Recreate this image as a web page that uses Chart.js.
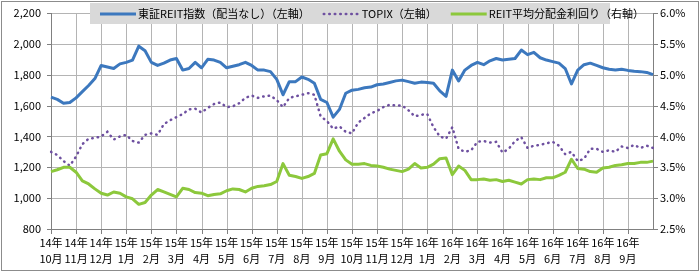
<!DOCTYPE html>
<html>
<head>
<meta charset="utf-8">
<script src="https://cdn.jsdelivr.net/npm/chart.js@4/dist/chart.umd.min.js"></script>
<style>
  html, body { margin: 0; padding: 0; background: #fff; }
</style>
</head>
<body>
<canvas id="chart" width="700" height="273"></canvas>
<script>
// month tick labels (one every 4 data points)
const monthLabels = [
  ["14年", "10月"], ["14年", "11月"], ["14年", "12月"], ["15年", "1月"], ["15年", "2月"], ["15年", "3月"],
  ["15年", "4月"], ["15年", "5月"], ["15年", "6月"], ["15年", "7月"], ["15年", "8月"], ["15年", "9月"],
  ["15年", "10月"], ["15年", "11月"], ["15年", "12月"], ["16年", "1月"], ["16年", "2月"], ["16年", "3月"],
  ["16年", "4月"], ["16年", "5月"], ["16年", "6月"], ["16年", "7月"], ["16年", "8月"], ["16年", "9月"]
];

// 東証REIT指数 (left axis), roughly weekly
const reitIndex = [
  1655, 1640, 1615, 1620, 1650, 1690, 1730, 1775, 1860, 1850,
  1840, 1870, 1880, 1895, 1985, 1955, 1880, 1860, 1875, 1895,
  1905, 1830, 1840, 1880, 1845, 1900, 1895, 1880, 1845, 1855,
  1865, 1880, 1860, 1830, 1830, 1820, 1770, 1670, 1755, 1755,
  1785, 1770, 1745, 1640, 1620, 1525, 1575, 1680, 1700, 1705,
  1715, 1720, 1735, 1740, 1750, 1760, 1765, 1755, 1745, 1752,
  1750, 1745, 1695, 1660, 1830, 1760, 1830, 1860, 1880, 1865,
  1890, 1905, 1895, 1900, 1905, 1960, 1930, 1945, 1910, 1895,
  1885, 1875, 1840, 1740, 1830, 1865, 1875, 1860, 1845, 1835,
  1830, 1835, 1828, 1822, 1820, 1815, 1800
];

// TOPIX (left axis)
const topix = [
  1300, 1280, 1240, 1210, 1270, 1350, 1385, 1390, 1400, 1430,
  1380, 1400, 1410, 1370, 1360, 1410, 1420, 1410, 1480, 1505,
  1525, 1545, 1575, 1580, 1555, 1585, 1610, 1620, 1590, 1595,
  1615, 1650, 1665, 1650, 1660, 1665, 1635, 1590, 1650, 1660,
  1670, 1680, 1670, 1530, 1500, 1450, 1465, 1430, 1420, 1490,
  1520, 1550, 1565, 1590, 1605, 1600, 1600, 1570, 1530, 1540,
  1545, 1460, 1400, 1385, 1460, 1320, 1300, 1310, 1365, 1370,
  1360, 1365, 1295, 1320, 1370, 1395, 1325, 1340, 1345, 1355,
  1365, 1340, 1285, 1300, 1240, 1255, 1320, 1320, 1300, 1310,
  1300, 1335, 1325, 1345, 1325, 1340, 1325
];

// REIT平均分配金利回り (right axis, %)
const reitYield = [
  3.43, 3.46, 3.50, 3.50, 3.42, 3.28, 3.23, 3.15, 3.08, 3.05,
  3.10, 3.08, 3.02, 2.99, 2.90, 2.93, 3.05, 3.14, 3.10, 3.06,
  3.02, 3.16, 3.14, 3.09, 3.08, 3.04, 3.06, 3.07, 3.12, 3.15,
  3.14, 3.10, 3.16, 3.19, 3.20, 3.22, 3.27, 3.56, 3.37, 3.35,
  3.32, 3.35, 3.40, 3.70, 3.72, 3.96, 3.76, 3.62, 3.55, 3.55,
  3.56, 3.53, 3.52, 3.50, 3.47, 3.45, 3.43, 3.47, 3.56, 3.49,
  3.50, 3.55, 3.64, 3.65, 3.38, 3.52, 3.45, 3.30, 3.30, 3.31,
  3.29, 3.30, 3.27, 3.29, 3.26, 3.23, 3.30, 3.31, 3.30, 3.33,
  3.33, 3.37, 3.42, 3.63, 3.48, 3.47, 3.43, 3.42, 3.49, 3.50,
  3.53, 3.54, 3.56, 3.56, 3.58, 3.58, 3.60
];

// axis tick values
const leftTicks = [800, 1000, 1200, 1400, 1600, 1800, 2000, 2200];
const rightTicks = [2.5, 3.0, 3.5, 4.0, 4.5, 5.0, 5.5, 6.0];

const seriesNames = ["東証REIT指数（配当なし）（左軸）", "TOPIX（左軸）", "REIT平均分配金利回り（右軸）"];

// one category per data point, month label on every 4th
const labels = reitIndex.map((v, i) => (i % 4 === 0 && monthLabels[i / 4]) ? monthLabels[i / 4] : "");

const FONT = '"Noto Sans CJK JP", "Noto Sans", sans-serif';
const GRID = "#b4b4b4";
const AXIS = "#808080";
const NONE = "rgba(0,0,0,0)";

/* gridlines, axis lines and tick marks as 1px rects, placed through the chart's own scales */
const gridLines = {
  id: "gridLines",
  beforeDatasetsDraw(chart) {
    const { ctx, chartArea: a, scales } = chart;
    const L = Math.round(a.left), R = Math.round(a.right);
    const T = Math.round(a.top), B = Math.round(a.bottom);
    const hLine = (x1, x2, y) => ctx.fillRect(x1, Math.round(y), x2 - x1 + 1, 1);
    const vLine = (x, y1, y2) => ctx.fillRect(Math.round(x), y1, 1, y2 - y1 + 1);
    ctx.save();
    ctx.globalAlpha = 1;
    ctx.fillStyle = GRID;
    leftTicks.forEach((v) => hLine(L, R, scales.y.getPixelForValue(v)));
    labels.forEach((l, i) => { if (l) vLine(scales.x.getPixelForValue(i), T, B); });

    ctx.fillStyle = AXIS;
    vLine(L, T, B + 4);
    vLine(R, T, B);
    hLine(L, R, B);
    leftTicks.forEach((v) => hLine(L - 4, L, scales.y.getPixelForValue(v)));
    rightTicks.forEach((v) => hLine(R, R + 4, scales.y1.getPixelForValue(v)));
    labels.forEach((l, i) => { if (l) vLine(scales.x.getPixelForValue(i), B, B + 4); });
    ctx.restore();
  }
};

/* legend drawn as a grey box over the top of the plot, plus the outer frame */
const boxLegend = {
  id: "boxLegend",
  afterDraw(chart) {
    const ctx = chart.ctx;
    ctx.save();
    ctx.fillStyle = "#d9d9d9";
    ctx.fillRect(90, 3, 520, 21);
    ctx.font = "11px " + FONT;
    ctx.textBaseline = "middle";
    let x = 100;
    chart.data.datasets.forEach((ds) => {
      ctx.beginPath();
      ctx.strokeStyle = ds.borderColor;
      ctx.lineWidth = ds.borderWidth;
      ctx.lineCap = ds.borderCapStyle || "butt";
      ctx.setLineDash(ds.borderDash || []);
      ctx.moveTo(x, 14);
      ctx.lineTo(x + 36, 14);
      ctx.stroke();
      ctx.setLineDash([]);
      ctx.fillStyle = "#000";
      ctx.fillText(ds.label, x + 38, 14);
      x += 38 + ctx.measureText(ds.label).width + 14;
    });
    ctx.strokeStyle = "#8c8c8c";
    ctx.lineWidth = 1;
    ctx.strokeRect(1.5, 1.5, 697, 269);
    ctx.restore();
  }
};

new Chart(document.getElementById("chart"), {
  type: "line",
  data: {
    labels: labels,
    datasets: [
      {
        label: seriesNames[0],
        data: reitIndex,
        yAxisID: "y",
        borderColor: "#3c78be",
        borderWidth: 3,
        borderJoinStyle: "round",
        pointRadius: 0,
        order: 3,
      },
      {
        label: seriesNames[1],
        data: topix,
        yAxisID: "y",
        borderColor: "#6e50a0",
        borderWidth: 2.5,
        borderDash: [0.5, 5],
        borderCapStyle: "round",
        pointRadius: 0,
        order: 2,
      },
      {
        label: seriesNames[2],
        data: reitYield,
        yAxisID: "y1",
        borderColor: "#8cc83c",
        borderWidth: 3,
        borderJoinStyle: "round",
        pointRadius: 0,
        order: 1,
      },
    ],
  },
  options: {
    responsive: false,
    animation: false,
    layout: { padding: { top: 13, left: 0, right: 0, bottom: 0 } },
    plugins: { legend: { display: false }, tooltip: { enabled: false } },
    elements: { line: { tension: 0 } },
    scales: {
      x: {
        type: "category",
        offset: false,
        afterFit(s) { s.height = 44; },
        grid: { color: NONE, tickColor: NONE, tickLength: 4 },
        border: { display: false },
        ticks: {
          autoSkip: false,
          maxRotation: 0,
          padding: 2,
          color: "#000",
          font: { family: FONT, size: 11, lineHeight: 1.45 },
        },
      },
      y: {
        position: "left",
        min: leftTicks[0],
        max: leftTicks[leftTicks.length - 1],
        afterFit(s) { s.width = 51; },
        grid: { color: NONE, tickColor: NONE, tickLength: 4 },
        border: { display: false },
        ticks: {
          stepSize: 200,
          padding: 6,
          color: "#000",
          font: { family: FONT, size: 11 },
          callback: (v) => v.toLocaleString("en-US"),
        },
      },
      y1: {
        position: "right",
        min: rightTicks[0],
        max: rightTicks[rightTicks.length - 1],
        afterFit(s) { s.width = 47; },
        grid: { drawOnChartArea: false, tickColor: NONE, tickLength: 4 },
        border: { display: false },
        ticks: {
          stepSize: 0.5,
          padding: 3,
          color: "#000",
          font: { family: FONT, size: 11 },
          callback: (v) => v.toFixed(1) + "%",
        },
      },
    },
  },
  plugins: [gridLines, boxLegend],
});
</script>
</body>
</html>
